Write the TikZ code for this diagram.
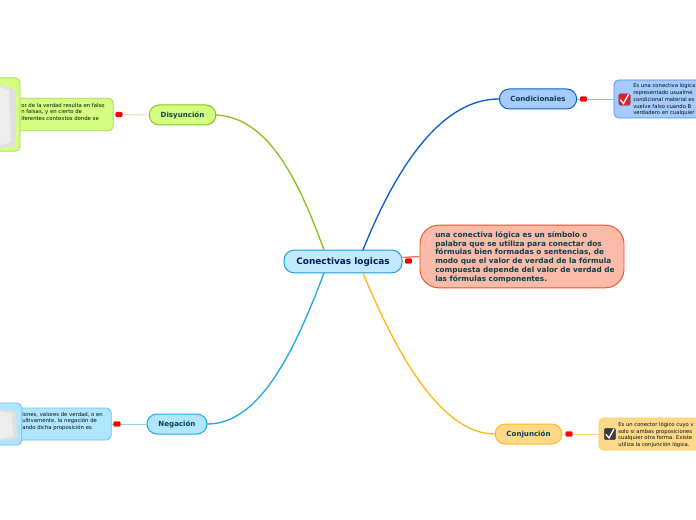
\documentclass[tikz,border=0pt]{standalone}
\usepackage{fontspec}
\setmainfont{DejaVu Sans}
\usetikzlibrary{calc}
\definecolor{txt}{HTML}{0B3F4A}
\definecolor{gfill}{HTML}{D5FF80}\definecolor{gline}{HTML}{8CC21C}
\definecolor{bfill}{HTML}{B0E6FF}\definecolor{bline}{HTML}{1FA8E8}
\definecolor{cfill}{HTML}{A6CCFF}\definecolor{cline}{HTML}{0A5FD0}
\definecolor{yfill}{HTML}{FFD98A}\definecolor{yline}{HTML}{FFB814}
\definecolor{rfill}{HTML}{FBBBA8}\definecolor{rline}{HTML}{F4502A}
\definecolor{mfill}{HTML}{C2EAFF}\definecolor{mline}{HTML}{1C9CDC}
\definecolor{icred}{HTML}{E0202C}\definecolor{icdark}{HTML}{3A3A44}
\tikzset{
 x=0.75pt,y=-0.75pt,
 topic/.style={draw=#1,line width=0.75pt,rounded corners=7.5pt,inner sep=0pt,text=txt,font=\fontsize{5.3}{7}\selectfont\bfseries,text height=4.6pt,text depth=0.3pt},
 detail/.style={draw=#1!70!white,line width=0.6pt,rounded corners=3.5pt,inner sep=0pt},
 imgbox/.style={draw=#1!70!white,line width=0.6pt,rounded corners=3.5pt,inner sep=0pt},
 small/.style={inner sep=0pt,anchor=north west,align=left,text=black!80!txt,font=\fontsize{4.0}{4.85}\selectfont},
 marker/.style={fill=red,draw=red!90!black,line width=0.2pt,rounded corners=0.8pt,minimum width=5pt,minimum height=3.6pt,inner sep=0pt},
 branch/.style={line width=1pt,line cap=round},
 leaf/.style={line width=0.7pt},
 check/.style={rounded corners=1.2pt,minimum size=8.6pt,inner sep=0pt,draw=#1!60!black,line width=0.3pt,fill=#1},
}
\begin{document}
\begin{tikzpicture}
\useasboundingbox (0,0) rectangle (696,520);
\clip (0,0) rectangle (696,520);
\fill[white] (0,0) rectangle (696,520);

% anchors of the branches on the central topic
\coordinate (mNW) at (324,250);
\coordinate (mNE) at (363,250);
\coordinate (mSW) at (324,273);
\coordinate (mSE) at (363,273);

% topics
\node[topic=mline,fill=mfill,minimum width=88.5pt,minimum height=17pt,font=\fontsize{6.7}{9}\selectfont\bfseries,text=black!60!blue!60!txt,text height=5.6pt,text depth=0.5pt] (central) at (343,261.5) {Conectivas logicas};
\node[topic=gline,fill=gfill,minimum width=50pt,minimum height=15pt] (dis) at (182.5,115) {Disyunción};
\node[topic=bline,fill=bfill,minimum width=45pt,minimum height=15pt] (neg) at (177,424) {Negación};
\node[topic=cline,fill=cfill,minimum width=58pt,minimum height=15pt] (con) at (538,99) {Condicionales};
\node[topic=yline,fill=yfill,minimum width=50pt,minimum height=15pt] (conj) at (528.5,434) {Conjunción};

% branches
\draw[branch,gline] (mNW) .. controls (295,170) and (265,118) .. (dis.east);
\draw[branch,bline] (mSW) .. controls (295,350) and (260,424) .. (neg.east);
\draw[branch,cline] (mNE) .. controls (395,170) and (440,99) .. (con.west);
\draw[branch,yline] (mSE) .. controls (395,350) and (440,434) .. (conj.west);

% detail boxes
\node[detail=gline,fill=gfill,minimum width=100pt,minimum height=24.5pt] (disD) at (46.5,114.5) {};
\node[detail=bline,fill=bfill,minimum width=100pt,minimum height=24pt] (negD) at (44.5,424) {};
\node[detail=cline,fill=cfill,minimum width=120pt,minimum height=28.5pt] (conD) at (694,99) {};
\node[detail=yline,fill=yfill,minimum width=120pt,minimum height=24pt] (conjD) at (679,434) {};

% note
\node[draw=rline,fill=rfill,line width=0.7pt,rounded corners=14pt,minimum width=153pt,minimum height=47pt,inner sep=0pt] (note) at (522,256.5) {};
\node[inner sep=0pt,anchor=north west,align=left,text=txt,font=\fontsize{5.5}{6.7}\selectfont\bfseries] (noteT) at (435,231) {una conectiva lógica es un símbolo o\\palabra que se utiliza para conectar dos\\fórmulas bien formadas o sentencias, de\\modo que el valor de verdad de la fórmula\\compuesta depende del valor de verdad de\\las fórmulas componentes.};

% leaf links
\draw[leaf,gline!35!white] (disD.east) -- (dis.west);
\draw[leaf,bline!50!white] (negD.east) -- (neg.west);
\draw[leaf,cline!45!white] (con.east) -- (conD.west);
\draw[leaf,yline!55!white] (conj.east) -- (conjD.west);
\draw[line width=1pt,rline!80!white] (central.east |- note.west) ++(0,1) -- (note.west);

% markers
\node[marker] (m1) at (119,114.5) {};
\node[marker] (m2) at (117,424) {};
\node[marker] (m3) at (583.5,99) {};
\node[marker] (m4) at (569,434) {};
\node[marker] (m5) at (408.5,261) {};

% detail texts
\node[small] (t1) at (21,103) {or de la verdad resulta en falso\\n falsas, y en cierto de\\iferentes contextos donde se};
\node[small] (t2) at (22,412) {iones, valores de verdad, o en\\ultivamente, la negación de\\ando dicha proposición es};
\node[small,font=\fontsize{3.95}{5.05}\selectfont] (t3) at (633,83.5) {Es una conectiva lógica\\representado usualme\\condicional material es\\vuelve falso cuando B\\verdadero en cualquier};
\node[small,font=\fontsize{3.95}{5.05}\selectfont] (t4) at (618,422) {Es un conector lógico cuyo v\\solo si ambas proposiciones\\cualquier otra forma. Existe\\utiliza la conjunción lógica.};

% image panels
\node[imgbox=gline,fill=gfill,minimum width=30pt,minimum height=55pt] (imgG) at (0,114.5) {};
\node[imgbox=bline,fill=bfill,minimum width=31pt,minimum height=31.5pt] (imgB) at (1,424) {};
\fill[black!12] (-2,84) -- (11,88) .. controls (16,90) and (16,92) .. (16,96) -- (16,140) .. controls (16,146) and (14,147) .. (10,147) -- (-2,148) -- cycle;
\fill[black!7] (-2,86) -- (9,90) -- (11,142) -- (-2,146) -- cycle;
\fill[black!12] (-2,409) -- (16,412) -- (17,438) -- (-2,441) -- cycle;
\fill[black!7] (-2,411) -- (12,414) -- (13,436) -- (-2,439) -- cycle;

% check icons
\node[check=icred] (ic1) at (624.5,99.5) {};
\node[check=icdark] (ic2) at (610,434) {};
\draw[white,line width=1pt,line cap=round] (620.5,100) -- (623.5,103.5) -- (628.5,94.5);
\draw[white,line width=1pt,line cap=round] (606,434.5) -- (609,438) -- (614,429);
\end{tikzpicture}
\end{document}
